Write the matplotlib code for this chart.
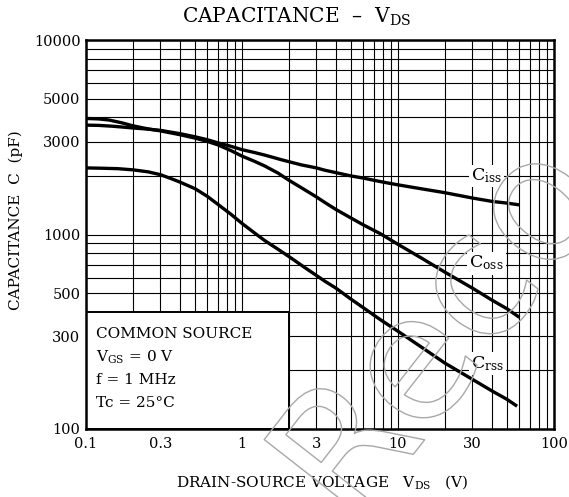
import matplotlib
matplotlib.use("Agg")
import matplotlib.pyplot as plt
import matplotlib.patheffects as pe
from matplotlib.patches import Rectangle
from matplotlib.ticker import FixedLocator, NullFormatter, LogLocator

plt.rcParams['font.family'] = ['DejaVu Serif']
plt.rcParams['mathtext.fontset'] = 'dejavuserif'

# data
vds_iss = [0.1, 0.12, 0.15, 0.2, 0.25, 0.3, 0.4, 0.5, 0.6, 0.7, 0.85, 1.0, 1.2, 1.4, 1.8,
           2.4, 3.0, 3.4, 4, 5, 6, 7, 8, 10, 14, 20, 30, 40, 50, 60]
c_iss = [3650, 3640, 3600, 3530, 3480, 3430, 3300, 3180, 3070, 2960, 2840, 2730, 2640, 2560, 2420,
         2280, 2200, 2140, 2080, 2000, 1950, 1900, 1860, 1800, 1720, 1640, 1540, 1480, 1450, 1420]

vds_oss = [0.1, 0.12, 0.14, 0.17, 0.2, 0.25, 0.3, 0.4, 0.5, 0.6, 0.7, 0.85, 1.0, 1.2, 1.4, 1.7,
           2.0, 2.4, 3.0, 3.4, 4, 5, 6, 7.7, 10, 14, 20, 30, 40, 50, 60]
c_oss = [3950, 3930, 3880, 3750, 3620, 3490, 3410, 3260, 3130, 3010, 2890, 2700, 2530, 2380, 2250, 2070,
         1900, 1740, 1560, 1460, 1345, 1215, 1120, 1010, 890, 760, 640, 530, 460, 415, 375]

vds_rss = [0.1, 0.13, 0.16, 0.2, 0.25, 0.3, 0.35, 0.4, 0.5, 0.6, 0.7, 0.85, 1.0, 1.2, 1.4, 1.7,
           2.0, 2.5, 3.4, 4, 5, 6, 7.7, 10, 14, 20, 30, 40, 50, 58]
c_rss = [2200, 2190, 2180, 2150, 2100, 2030, 1940, 1860, 1720, 1570, 1430, 1270, 1140, 1020, 930, 840,
         770, 680, 575, 530, 465, 420, 365, 318, 265, 218, 180, 157, 142, 131]

x_ticks = [0.1, 0.3, 1, 3, 10, 30, 100]
x_tick_labels = ['0.1', '0.3', '1', '3', '10', '30', '100']
y_ticks = [100, 300, 500, 1000, 3000, 5000, 10000]
y_tick_labels = ['100', '300', '500', '1000', '3000', '5000', '10000']

W, H = 569, 497
fig = plt.figure(figsize=(W / 100, H / 100), dpi=100)
ax = fig.add_axes([86 / W, (H - 429) / H, 468 / W, 389 / H])
ax.set_xscale('log')
ax.set_yscale('log')
ax.set_xlim(0.1, 100)
ax.set_ylim(100, 10000)

ax.xaxis.set_major_locator(FixedLocator(x_ticks))
ax.set_xticklabels(x_tick_labels)
ax.yaxis.set_major_locator(FixedLocator(y_ticks))
ax.set_yticklabels(y_tick_labels)
ax.xaxis.set_minor_locator(LogLocator(base=10, subs=range(1, 10), numticks=100))
ax.yaxis.set_minor_locator(LogLocator(base=10, subs=range(1, 10), numticks=100))
ax.xaxis.set_minor_formatter(NullFormatter())
ax.yaxis.set_minor_formatter(NullFormatter())
ax.tick_params(which='both', length=0)
ax.tick_params(axis='x', labelsize=10.5, pad=6)
ax.tick_params(axis='y', labelsize=10.5, pad=4)
ax.grid(which='both', color='black', linewidth=0.8)
ax.set_axisbelow(True)
for s in ax.spines.values():
    s.set_linewidth(1.8)

lw = 2.4
ax.plot(vds_iss, c_iss, color='black', lw=lw, zorder=3, solid_capstyle='butt')
ax.plot(vds_oss, c_oss, color='black', lw=lw, zorder=3, solid_capstyle='butt')
ax.plot(vds_rss, c_rss, color='black', lw=lw, zorder=3, solid_capstyle='butt')

bb = dict(facecolor='white', edgecolor='none', pad=1.5)
ax.text(29.5, 2000, r'C$_{\rm iss}$', fontsize=12.5, va='center', ha='left', bbox=bb, zorder=4)
ax.text(28.5, 713, r'C$_{\rm oss}$', fontsize=12.5, va='center', ha='left', bbox=bb, zorder=4)
ax.text(29.5, 218, r'C$_{\rm rss}$', fontsize=12.5, va='center', ha='left', bbox=bb, zorder=4)

# condition box
ax.add_patch(Rectangle((0.1, 100), 2.0 - 0.1, 400 - 100, facecolor='white',
                       edgecolor='black', lw=1.4, zorder=2.5))
cond = ['COMMON SOURCE', r'V$_{\rm GS}$ = 0 V', 'f = 1 MHz', 'Tc = 25°C']
for i, t in enumerate(cond):
    fig.text(96 / W, 1 - (334 + i * 23) / H, t, fontsize=11, va='center', ha='left', zorder=5)

fig.text(297 / W, 1 - 17 / H, r'CAPACITANCE  –  V$_{\rm DS}$', fontsize=14.5,
         ha='center', va='center')
fig.text(322 / W, 1 - 482 / H, r'DRAIN-SOURCE VOLTAGE   V$_{\rm DS}$   (V)', fontsize=11,
         ha='center', va='center')
fig.text(16 / W, 1 - 220 / H, 'CAPACITANCE  C  (pF)', fontsize=11, rotation=90,
         ha='center', va='center')

# faint outline watermark (cut by the image edge, as in the reference)
fig.text(445 / W, 1 - 335 / H, 'Reco', fontsize=125, rotation=52, color='none',
         ha='center', va='center', family='DejaVu Sans',
         path_effects=[pe.Stroke(linewidth=1.0, foreground='#a8a8a8')], zorder=10)

fig.savefig('out.png', dpi=100)
